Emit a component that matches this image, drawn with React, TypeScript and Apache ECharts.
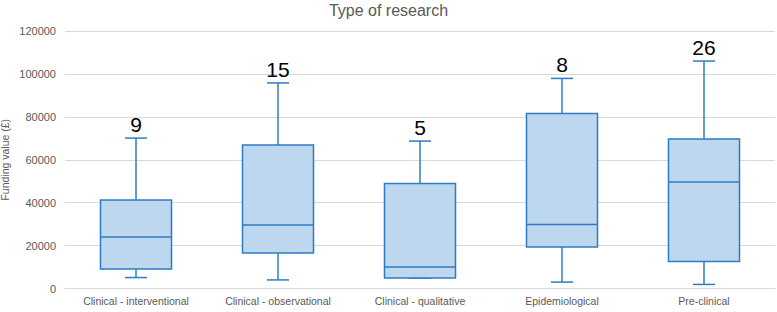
import React, { useEffect, useRef } from "react";
import * as echarts from "echarts";

const categories = [
  "Clinical - interventional",
  "Clinical - observational",
  "Clinical - qualitative",
  "Epidemiological",
  "Pre-clinical",
];
const minValues = [5100, 4000, 4900, 3000, 1900];
const q1Values = [9100, 16500, 4900, 19300, 12600];
const medianValues = [24000, 29600, 10000, 29800, 49600];
const q3Values = [41200, 66900, 48900, 81500, 69700];
const maxValues = [70100, 95800, 68700, 97900, 106000];
const counts = ["9", "15", "5", "8", "26"];
const yTicks = { min: 0, max: 120000, interval: 20000 };

const FONT = "'Liberation Sans', Arial, sans-serif";
const LINE = "#2E7CC4";
const FILL = "#BDD7EE";

export default function App() {
  const ref = useRef<HTMLDivElement>(null);
  useEffect(() => {
    if (!ref.current) return;
    const chart = echarts.init(ref.current, undefined, { renderer: "svg" });
    const data = categories.map((c, i) => [
      i,
      minValues[i],
      q1Values[i],
      medianValues[i],
      q3Values[i],
      maxValues[i],
      counts[i],
    ]);
    chart.setOption({
      animation: false,
      title: {
        text: "Type of research",
        left: "center",
        top: -3,
        textStyle: { fontFamily: FONT, fontSize: 16, fontWeight: "normal", color: "#595959" },
      },
      grid: { left: 65, right: 2, top: 31, bottom: 23.5, outerBoundsMode: "none", containLabel: false },
      xAxis: {
        type: "category",
        data: categories,
        axisTick: { show: false },
        axisLine: { lineStyle: { color: "#D9D9D9" } },
        axisLabel: { fontFamily: FONT, fontSize: 10.5, color: "#595959", margin: 7, interval: 0 },
        splitLine: { show: false },
      },
      yAxis: {
        type: "value",
        min: yTicks.min,
        max: yTicks.max,
        interval: yTicks.interval,
        name: "Funding value (£)",
        nameLocation: "middle",
        nameGap: 55,
        nameMoveOverlap: false,
        nameTextStyle: { fontFamily: FONT, fontSize: 10.5, color: "#595959" },
        axisLine: { show: false },
        axisTick: { show: false },
        axisLabel: {
          fontFamily: FONT,
          fontSize: 11,
          color: "#595959",
          margin: 9,
          formatter: (v: number) => String(v),
        },
        splitLine: { lineStyle: { color: "#D9D9D9" } },
      },
      series: [
        {
          type: "custom",
          data,
          renderItem: (params: any, api: any) => {
            const x = api.value(0);
            const pMin = api.coord([x, api.value(1)]);
            const pQ1 = api.coord([x, api.value(2)]);
            const pMed = api.coord([x, api.value(3)]);
            const pQ3 = api.coord([x, api.value(4)]);
            const pMax = api.coord([x, api.value(5)]);
            const band = api.size([1, 0])[0];
            const half = band * 0.25;
            const cap = 11;
            const cx = pMed[0];
            const ls = { stroke: LINE, lineWidth: 1.5 };
            return {
              type: "group",
              children: [
                { type: "line", shape: { x1: cx, y1: pQ3[1], x2: cx, y2: pMax[1] }, style: ls },
                { type: "line", shape: { x1: cx - cap, y1: pMax[1], x2: cx + cap, y2: pMax[1] }, style: ls },
                { type: "line", shape: { x1: cx, y1: pQ1[1], x2: cx, y2: pMin[1] }, style: ls },
                { type: "line", shape: { x1: cx - cap, y1: pMin[1], x2: cx + cap, y2: pMin[1] }, style: ls },
                {
                  type: "rect",
                  shape: { x: cx - half, y: pQ3[1], width: half * 2, height: pQ1[1] - pQ3[1] },
                  style: { fill: FILL, stroke: LINE, lineWidth: 1.5 },
                },
                { type: "line", shape: { x1: cx - half, y1: pMed[1], x2: cx + half, y2: pMed[1] }, style: ls },
                {
                  type: "text",
                  x: cx,
                  y: pMax[1] - 3,
                  style: {
                    text: String(api.value(6)),
                    fontFamily: FONT,
                    fontSize: 21,
                    fill: "#000",
                    align: "center",
                    verticalAlign: "bottom",
                  },
                },
              ],
            };
          },
        },
      ],
    });
    return () => chart.dispose();
  }, []);
  return (
    <div
      ref={ref}
      style={{ position: "fixed", left: 0, top: 0, width: 777, height: 312, background: "#fff" }}
    />
  );
}
